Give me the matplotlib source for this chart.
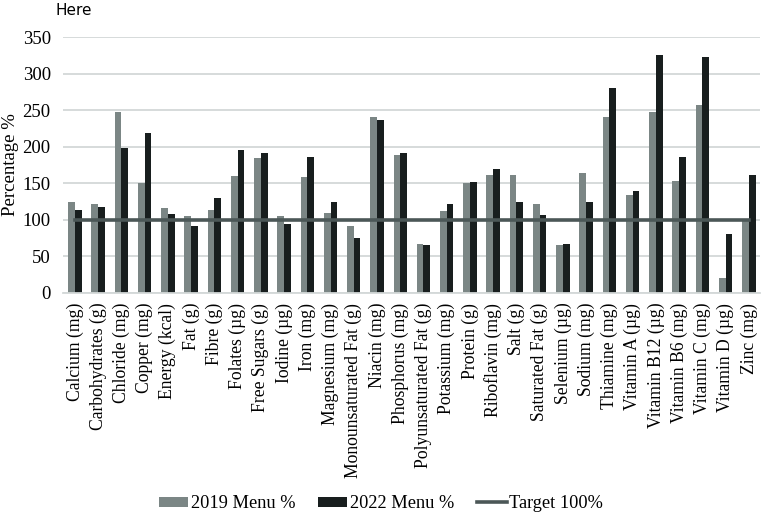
import numpy as np
import matplotlib.pyplot as plt

nutrients = ['Calcium (mg)', 'Carbohydrates (g)', 'Chloride (mg)', 'Copper (mg)',
             'Energy (kcal)', 'Fat (g)', 'Fibre (g)', 'Folates (µg)', 'Free Sugars (g)',
             'Iodine (µg)', 'Iron (mg)', 'Magnesium (mg)', 'Monounsaturated Fat (g)',
             'Niacin (mg)', 'Phosphorus (mg)', 'Polyunsaturated Fat (g)', 'Potassium (mg)',
             'Protein (g)', 'Riboflavin (mg)', 'Salt (g)', 'Saturated Fat (g)',
             'Selenium (µg)', 'Sodium (mg)', 'Thiamine (mg)', 'Vitamin A (µg)',
             'Vitamin B12 (µg)', 'Vitamin B6 (mg)', 'Vitamin C (mg)', 'Vitamin D (µg)',
             'Zinc (mg)']
menu_2019 = [125, 121, 248, 150, 116, 105, 113, 160, 185, 105, 159, 109, 91, 240, 189,
             67, 112, 150, 161, 162, 122, 66, 164, 240, 134, 247, 153, 257, 20, 100]
menu_2022 = [113, 117, 198, 219, 108, 91, 130, 195, 191, 94, 186, 124, 75, 237, 192,
             66, 122, 152, 169, 124, 107, 67, 124, 280, 140, 326, 186, 322, 80, 161]
target = 100

c19 = '#7b8685'
c22 = '#181e1e'
ctarget = '#4b5757'

plt.rcParams['font.family'] = ['Liberation Serif', 'DejaVu Serif']

fig = plt.figure(figsize=(7.62, 5.14), dpi=100)
ax = fig.add_axes([0.083, 0.430, 0.915, 0.498])

x = np.arange(len(nutrients))
w = 0.29
b1 = ax.bar(x - w / 2, menu_2019, w, color=c19, label='2019 Menu %', zorder=2)
b2 = ax.bar(x + w / 2, menu_2022, w, color=c22, label='2022 Menu %', zorder=2)
l1, = ax.plot(x, [target] * len(x), color=ctarget, lw=2.6, label='Target 100%', zorder=3)

ax.set_xlim(-0.5, len(x) - 0.5)
ax.set_ylim(0, 350)
ax.set_yticks(np.arange(0, 351, 50))
ax.set_xticks(x)
ax.set_xticklabels(nutrients, rotation=90, fontsize=12.7)
ax.tick_params(axis='y', labelsize=13.5, length=0, pad=9)
ax.tick_params(axis='x', length=0, pad=7)
ax.grid(axis='y', color='#d3d8d8', lw=1.3, zorder=0)
for s in ['top', 'right', 'left']:
    ax.spines[s].set_visible(False)
ax.spines['bottom'].set_color('#d3d8d8')
ax.spines['bottom'].set_linewidth(1.3)

# y label placed by hand, Excel puts it close to the edge
fig.text(11 / 762, 0.679, 'Percentage %', fontsize=13.5, rotation=90,
         ha='center', va='center')
fig.text(0.073, 0.98, 'Here', fontsize=11, family='DejaVu Sans', va='center', ha='left')

fig.legend([b1, b2, l1], ['2019 Menu %', '2022 Menu %', 'Target 100%'],
           loc='center', bbox_to_anchor=(0.5, 0.02), ncol=3, frameon=False,
           fontsize=13.2, handlelength=1.6, handleheight=0.45, handletextpad=0.15,
           columnspacing=1.25)

fig.savefig('out.png', dpi=100)
